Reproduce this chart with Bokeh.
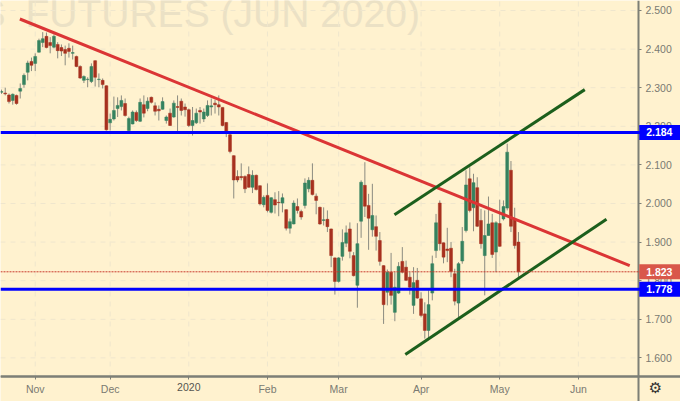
from bokeh.plotting import figure
from bokeh.embed import file_html
from bokeh.resources import INLINE
from bokeh.models import FixedTicker, NumeralTickFormatter, Span, LinearAxis
from bokeh.core.properties import value

opens = [2.288,2.286,2.281,2.267,2.280,2.291,2.308,2.340,2.368,2.363,2.392,2.417,2.433,2.417,2.405,2.412,2.404,2.399,2.402,2.389,
2.381,2.355,2.319,2.321,2.316,2.370,2.321,2.319,2.305,2.209,2.219,2.246,2.251,2.259,2.189,2.206,2.236,2.213,2.256,2.246,
2.275,2.253,2.244,2.244,2.215,2.234,2.224,2.251,2.265,2.250,2.243,2.202,2.209,2.241,2.219,2.228,2.250,2.260,2.256,2.249,
2.210,2.178,2.124,2.070,2.070,2.070,2.075,2.042,2.073,2.046,1.997,2.021,1.977,2.010,2.003,2.001,1.984,1.936,1.947,1.992,
1.979,1.995,2.038,2.060,2.019,1.990,1.956,1.959,1.934,1.859,1.798,1.863,1.897,1.934,1.865,1.788,1.954,2.047,1.995,1.932,
1.940,1.904,1.839,1.770,1.822,1.718,1.768,1.850,1.835,1.809,1.736,1.801,1.753,1.714,1.671,1.768,1.878,2.001,1.898,1.882,
1.884,1.818,1.742,1.851,1.930,2.064,1.989,2.041,1.956,1.865,1.917,1.950,1.874,1.948,1.960,1.988,2.086,1.960,1.900]
highs = [2.295,2.300,2.285,2.285,2.282,2.311,2.337,2.370,2.378,2.389,2.427,2.444,2.443,2.431,2.438,2.418,2.412,2.409,2.415,2.409,
2.383,2.358,2.332,2.327,2.363,2.371,2.337,2.324,2.306,2.233,2.277,2.275,2.280,2.272,2.225,2.241,2.241,2.272,2.280,2.275,
2.277,2.262,2.254,2.275,2.228,2.246,2.267,2.280,2.272,2.259,2.246,2.250,2.246,2.250,2.246,2.267,2.272,2.269,2.280,2.249,
2.211,2.181,2.125,2.086,2.104,2.073,2.096,2.086,2.075,2.047,2.021,2.052,2.016,2.029,2.032,2.026,1.985,1.961,2.008,2.013,
1.984,2.065,2.068,2.104,2.026,1.992,1.990,1.982,1.935,1.860,1.861,1.933,1.943,1.951,1.874,1.949,2.060,2.107,2.025,2.051,
1.969,1.926,1.840,1.829,1.872,1.822,1.848,1.887,1.852,1.822,1.835,1.833,1.770,1.744,1.775,1.865,1.973,2.008,1.899,1.937,
1.900,1.831,1.848,1.939,2.086,2.094,2.077,2.068,1.986,1.982,2.018,1.973,1.954,2.010,2.008,2.155,2.110,1.989,1.926]
lows = [2.284,2.280,2.259,2.256,2.256,2.272,2.300,2.319,2.343,2.343,2.391,2.405,2.402,2.389,2.402,2.376,2.382,2.358,2.378,2.373,
2.353,2.323,2.312,2.301,2.312,2.303,2.301,2.298,2.189,2.189,2.215,2.224,2.241,2.225,2.185,2.205,2.211,2.211,2.223,2.239,
2.259,2.228,2.215,2.243,2.207,2.201,2.222,2.185,2.228,2.225,2.198,2.176,2.206,2.207,2.211,2.224,2.228,2.233,2.228,2.200,
2.172,2.130,2.013,2.055,2.060,2.027,2.041,2.027,2.034,1.995,1.990,1.977,1.974,1.974,1.967,1.977,1.930,1.922,1.946,1.974,
1.958,1.987,2.029,2.021,1.972,1.945,1.943,1.926,1.835,1.764,1.795,1.852,1.887,1.858,1.811,1.730,1.911,1.965,1.880,1.914,
1.878,1.839,1.688,1.736,1.738,1.695,1.766,1.819,1.799,1.764,1.714,1.753,1.705,1.650,1.650,1.749,1.859,1.878,1.845,1.848,
1.809,1.736,1.705,1.844,1.925,1.977,1.928,1.939,1.883,1.762,1.917,1.859,1.822,1.888,1.956,1.982,1.926,1.883,1.809]
closes = [2.290,2.284,2.264,2.283,2.259,2.298,2.332,2.364,2.358,2.381,2.422,2.427,2.404,2.409,2.433,2.396,2.395,2.389,2.394,2.391,
2.355,2.325,2.329,2.322,2.355,2.327,2.322,2.308,2.191,2.218,2.241,2.254,2.267,2.228,2.220,2.237,2.215,2.262,2.234,2.265,
2.262,2.239,2.240,2.264,2.224,2.202,2.260,2.249,2.241,2.243,2.202,2.215,2.234,2.237,2.237,2.254,2.253,2.256,2.250,2.202,
2.185,2.135,2.061,2.061,2.067,2.038,2.042,2.073,2.036,1.999,2.016,1.982,2.015,1.996,2.002,2.015,1.936,1.953,2.001,1.982,
1.965,2.053,2.060,2.023,2.008,1.947,1.958,1.940,1.865,1.798,1.859,1.899,1.924,1.876,1.813,1.896,2.055,1.993,1.962,1.969,
1.915,1.850,1.738,1.822,1.762,1.783,1.837,1.822,1.801,1.783,1.795,1.755,1.710,1.671,1.738,1.844,1.950,1.896,1.861,1.878,
1.824,1.747,1.844,1.902,2.048,1.982,2.054,1.941,1.896,1.917,1.947,1.868,1.950,1.889,1.992,2.133,1.941,1.891,1.823]

y_ticks = [1.6, 1.7, 1.8, 1.9, 2.0, 2.1, 2.2, 2.3, 2.4, 2.5]
x_tick_bars = [9, 29, 50, 71, 90, 112, 133, 154]
x_tick_labels = ["Nov", "Dec", "2020", "Feb", "Mar", "Apr", "May", "Jun"]
res_line = 2.184
sup_line = 1.778
last_price = 1.823
red_x = [4.9, 167.7];   red_y = [2.478, 1.839]
gr1_x = [104.9, 155.7]; gr1_y = [1.971, 2.295]
gr2_x = [107.8, 161.5]; gr2_y = [1.609, 1.959]
wm_x = [1.1, 6.4]
wm_y = [2.491, 2.491]
wm_text = ["S", "FUTURES (JUN 2020)"]

BG = "#fff2cf"
GRID = "#efe6cd"
AXIS = "#7d7f76"
TXT = "#7a7a72"
UP = "#35825f"
DOWN = "#a7311f"
WICK = "#8b8b80"
FONT = "Liberation Sans"

X0, X1 = -0.267, 181.26      # window of bars over the full canvas width
Y0, Y1 = 1.4870, 2.5259      # window of prices over the full canvas height
AX_X = 170.05                # bar position of the price scale
AX_Y = 1.5518                # price position of the time scale
BADGE_H = 0.0194

p = figure(width=680, height=401, output_backend="svg", toolbar_location=None,
           x_range=(X0, X1), y_range=(Y0, Y1),
           x_axis_location=None, y_axis_location=None,
           background_fill_color=BG, border_fill_color=BG,
           min_border_left=0, min_border_top=0, min_border_right=0, min_border_bottom=0,
           outline_line_color=None)
p.grid.visible = False

xs = list(range(len(opens)))
colors = [UP if c >= o else DOWN for o, c in zip(opens, closes)]
tops = [max(o, c) for o, c in zip(opens, closes)]
bots = [min(o, c) for o, c in zip(opens, closes)]

# watermark and dashed grid stop at the two scales
p.text(x=wm_x, y=wm_y, text=wm_text, text_align=["right", "left"], text_baseline="middle",
       text_font=value(FONT), text_font_size="39px", text_color="#ebe1c5", level="underlay")
p.segment(x0=[X0] * len(y_ticks), y0=y_ticks, x1=[AX_X] * len(y_ticks), y1=y_ticks,
          line_color=GRID, line_dash="5 5", line_width=1, level="underlay")
p.segment(x0=x_tick_bars, y0=[AX_Y] * len(x_tick_bars), x1=x_tick_bars, y1=[Y1] * len(x_tick_bars),
          line_color=GRID, line_dash="5 5", line_width=1, level="underlay")

p.segment(xs, lows, xs, highs, line_color=WICK, line_width=1)
p.vbar(x=xs, top=tops, bottom=bots, width=0.78, fill_color=colors, line_color=colors, line_width=0.5)

p.add_layout(Span(location=last_price, dimension="width", line_color="#c9392b", line_width=1, line_dash="2 1"))
p.add_layout(Span(location=res_line, dimension="width", line_color="#0000ff", line_width=3))
p.add_layout(Span(location=sup_line, dimension="width", line_color="#0000ff", line_width=3))

p.line(red_x, red_y, line_color="#db3535", line_width=3)
p.line(gr1_x, gr1_y, line_color="#1c5f1c", line_width=3)
p.line(gr2_x, gr2_y, line_color="#1c5f1c", line_width=3)

def style(ax, color=TXT):
    ax.axis_line_color = AXIS
    ax.axis_line_width = 2
    ax.major_tick_line_color = AXIS
    ax.major_tick_out = 3
    ax.major_tick_in = 0
    ax.minor_tick_line_color = None
    ax.major_label_text_color = color
    ax.major_label_text_font = FONT
    ax.major_label_text_font_size = "10.5px"

yax = LinearAxis(fixed_location=AX_X, ticker=FixedTicker(ticks=y_ticks),
                 formatter=NumeralTickFormatter(format="0.000"), major_label_standoff=4)
style(yax)
p.add_layout(yax, "right")

plain = [i for i, t in enumerate(x_tick_labels) if t != "2020"]
xax = LinearAxis(fixed_location=AX_Y, ticker=FixedTicker(ticks=[x_tick_bars[i] for i in plain]),
                 major_label_overrides={x_tick_bars[i]: x_tick_labels[i] for i in plain}, major_label_standoff=4)
style(xax)
p.add_layout(xax, "below")
year = x_tick_labels.index("2020")
xay = LinearAxis(fixed_location=AX_Y, ticker=FixedTicker(ticks=[x_tick_bars[year]]),
                 major_label_overrides={x_tick_bars[year]: x_tick_labels[year]}, major_label_standoff=4)
style(xay, "#55554f")
p.add_layout(xay, "below")

badge_prices = [res_line, last_price, sup_line]
badge_colors = ["#0000ff", "#d9574a", "#0000ff"]
p.quad(left=[AX_X + 0.2] * 3, right=[X1] * 3,
       top=[v + BADGE_H for v in badge_prices], bottom=[v - BADGE_H for v in badge_prices],
       fill_color=badge_colors, line_color=None, level="overlay")
p.text(x=[172.1] * 3, y=badge_prices, text=[f"{v:.3f}" for v in badge_prices], text_color="white",
       text_font=value(FONT), text_font_size="10.5px", text_font_style="bold", text_baseline="middle",
       level="overlay")
p.text(x=[174.6], y=[1.5215], text=["\u2699"], text_color="#333333", text_font=value("DejaVu Sans"),
       text_font_size="15px", text_align="center", text_baseline="middle", level="overlay")

open("out.html", "w").write(file_html(p, INLINE))
